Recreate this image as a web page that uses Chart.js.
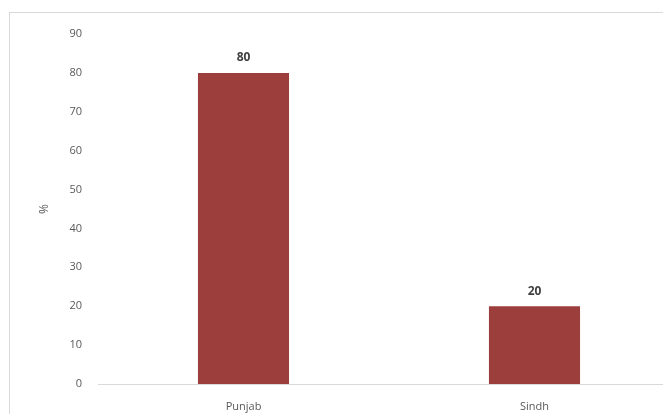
<!DOCTYPE html>
<html>
<head>
<meta charset="utf-8">
<script src="https://cdn.jsdelivr.net/npm/chart.js@4"></script>
<style>
  html, body { margin: 0; padding: 0; background: #fff; overflow: hidden; width: 663px; height: 414px; }
  #frame { position: absolute; left: 9px; top: 12px; width: 720px; height: 500px;
           border-left: 1px solid #d9d9d9; border-top: 1px solid #d9d9d9; }
  #chartBar { position: absolute; left: 0; top: 0; }
</style>
</head>
<body>
<div id="frame"></div>
<canvas id="chartBar" width="680" height="440"></canvas>
<script>
const provinces = ["Punjab", "Sindh"];
const shares = [80, 20];
const yTicks = [0, 10, 20, 30, 40, 50, 60, 70, 80, 90];

// value labels over the bars
const barLabels = {
  id: "barLabels",
  afterDatasetsDraw(chart) {
    const ctx = chart.ctx;
    const meta = chart.getDatasetMeta(0);
    ctx.save();
    ctx.font = "bold 12px 'Open Sans', sans-serif";
    ctx.fillStyle = "#404040";
    ctx.textAlign = "center";
    ctx.textBaseline = "bottom";
    meta.data.forEach((bar, i) => {
      ctx.fillText(shares[i], bar.x, bar.y - 9);
    });
    ctx.restore();
  }
};

const data = {
  labels: provinces,
  datasets: [
    {
      label: "%",
      backgroundColor: "#9c3f3c",
      borderWidth: 0,
      data: shares,
      barPercentage: 1,
      categoryPercentage: 0.313,
    },
  ],
};

const configBarChart = {
  type: "bar",
  data,
  options: {
    responsive: false,
    animation: false,
    devicePixelRatio: 1,
    layout: { padding: { top: 34, right: 0, bottom: 0, left: 0 } },
    plugins: {
      legend: { display: false },
      tooltip: { enabled: false },
    },
    scales: {
      x: {
        grid: { display: false, drawTicks: false },
        border: { display: true, color: "#d9d9d9", width: 1 },
        ticks: { color: "#595959", font: { family: "'Open Sans', sans-serif", size: 11 }, padding: 16 },
        afterFit(scale) { scale.height = 56; },
      },
      y: {
        min: 0,
        max: 90,
        afterBuildTicks(scale) { scale.ticks = yTicks.map(v => ({ value: v })); },
        grid: { display: false, drawTicks: false },
        border: { display: false },
        ticks: { color: "#595959", font: { family: "'Open Sans', sans-serif", size: 11 }, padding: 16 },
        title: {
          display: true, text: "%", color: "#595959",
          font: { family: "'Open Sans', sans-serif", size: 12 },
          padding: { top: 37, bottom: 0 },
        },
        afterFit(scale) { scale.width = 98; },
      },
    },
  },
  plugins: [barLabels],
};

var chartBar = new Chart(document.getElementById("chartBar"), configBarChart);
</script>
</body>
</html>
